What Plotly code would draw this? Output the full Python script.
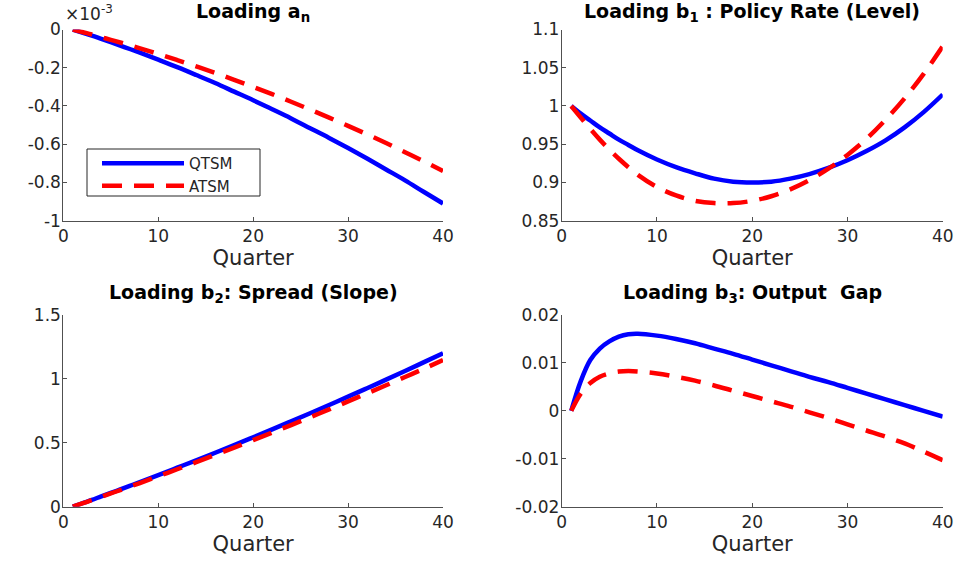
import plotly.graph_objects as go

quarters = [1, 2, 3, 4, 5, 6, 7, 8, 10, 12, 14, 16, 18, 20, 22, 24, 26, 28, 30, 32, 34, 36, 38, 40]

# Loading a_n (units of 1e-3)
an_qtsm = [0, -0.016, -0.032, -0.049, -0.066, -0.084, -0.102, -0.120, -0.158, -0.197, -0.238, -0.280,
           -0.325, -0.370, -0.417, -0.465, -0.516, -0.567, -0.620, -0.675, -0.732, -0.789, -0.850, -0.910]
an_atsm = [0, -0.013, -0.026, -0.040, -0.054, -0.068, -0.082, -0.097, -0.128, -0.160, -0.193, -0.227,
           -0.263, -0.300, -0.338, -0.378, -0.419, -0.461, -0.504, -0.548, -0.594, -0.642, -0.690, -0.740]

# Loading b1: Policy rate (level)
b1_qtsm = [1.000, 0.990, 0.981, 0.972, 0.964, 0.956, 0.949, 0.942, 0.930, 0.920, 0.912, 0.905,
           0.901, 0.900, 0.901, 0.905, 0.911, 0.919, 0.929, 0.941, 0.955, 0.972, 0.992, 1.015]
b1_atsm = [1.000, 0.985, 0.970, 0.956, 0.943, 0.931, 0.920, 0.910, 0.894, 0.883, 0.876, 0.873,
           0.873, 0.876, 0.882, 0.891, 0.903, 0.918, 0.936, 0.957, 0.982, 1.010, 1.042, 1.078]

# Loading b2: Spread (slope)
b2_qtsm = [0, 0.027, 0.053, 0.081, 0.108, 0.135, 0.163, 0.191, 0.247, 0.305, 0.363, 0.422,
           0.482, 0.543, 0.605, 0.668, 0.731, 0.796, 0.861, 0.927, 0.994, 1.062, 1.131, 1.200]
b2_atsm = [0, 0.026, 0.051, 0.077, 0.104, 0.130, 0.157, 0.183, 0.238, 0.293, 0.348, 0.405,
           0.462, 0.521, 0.580, 0.639, 0.700, 0.761, 0.824, 0.887, 0.950, 1.015, 1.080, 1.147]

# Loading b3: Output gap
b3_qtsm = [0, 0.0062, 0.0106, 0.0130, 0.0145, 0.0155, 0.0160, 0.0161, 0.0157, 0.0150, 0.0141, 0.0130,
           0.0119, 0.0107, 0.0095, 0.0083, 0.0071, 0.0060, 0.0048, 0.0036, 0.0024, 0.0012, 0.0000, -0.0012]
b3_atsm = [0, 0.0036, 0.0058, 0.0071, 0.0078, 0.0082, 0.0083, 0.0082, 0.0078, 0.0071, 0.0063, 0.0053,
           0.0042, 0.0031, 0.0020, 0.0009, -0.0003, -0.0015, -0.0028, -0.0041, -0.0054, -0.0068, -0.0085, -0.0103]

titles = ["<b>Loading a<sub>n</sub></b>",
          "<b>Loading b<sub>1</sub> : Policy Rate (Level)</b>",
          "<b>Loading b<sub>2</sub>: Spread (Slope)</b>",
          "<b>Loading b<sub>3</sub>: Output&nbsp; Gap</b>"]
x_ticks = [0, 10, 20, 30, 40]
y_ticks = [
    ([-1, -0.8, -0.6, -0.4, -0.2, 0], ["-1", "-0.8", "-0.6", "-0.4", "-0.2", "0"], [-1, 0]),
    ([0.85, 0.9, 0.95, 1.0, 1.05, 1.1], ["0.85", "0.9", "0.95", "1", "1.05", "1.1"], [0.85, 1.1]),
    ([0, 0.5, 1.0, 1.5], ["0", "0.5", "1", "1.5"], [0, 1.5]),
    ([-0.02, -0.01, 0, 0.01, 0.02], ["-0.02", "-0.01", "0", "0.01", "0.02"], [-0.02, 0.02]),
]
series = [(an_qtsm, an_atsm), (b1_qtsm, b1_atsm), (b2_qtsm, b2_atsm), (b3_qtsm, b3_atsm)]

W, H = 961, 563
xdoms = [[63.3 / W, 443 / W], [561.7 / W, 942.7 / W]]
ydoms = [[1 - 220.7 / H, 1 - 29.5 / H], [1 - 506.7 / H, 1 - 315 / H]]

AX = "#505050"
TXT = "#262626"
FONT = "DejaVu Sans, Liberation Sans, Arial, sans-serif"

fig = go.Figure()
layout = dict(
    width=W, height=H, margin=dict(l=0, r=0, t=0, b=0, autoexpand=False),
    paper_bgcolor="white", plot_bgcolor="white",
    font=dict(family=FONT, color=TXT),
    showlegend=True,
    legend=dict(x=97 / W, y=1 - 147 / H, xanchor="left", yanchor="top",
                borderwidth=0, bgcolor="rgba(0,0,0,0)",
                font=dict(size=15, color=TXT, family=FONT), itemwidth=82,
                tracegroupgap=0),
    shapes=[dict(type="rect", xref="paper", yref="paper",
                 x0=87 / W, x1=260 / W, y0=1 - 196 / H, y1=1 - 149 / H,
                 line=dict(color=TXT, width=1), fillcolor="white", layer="below")],
)
annotations = []
for i in range(4):
    r, c = divmod(i, 2)
    ax = "" if i == 0 else str(i + 1)
    q, a = series[i]
    fig.add_trace(go.Scatter(x=quarters, y=q, mode="lines", name="QTSM",
                             line=dict(color="#0000FF", width=4.5, shape="spline"),
                             xaxis="x" + ax, yaxis="y" + ax, showlegend=(i == 0),
                             cliponaxis=False))
    fig.add_trace(go.Scatter(x=quarters, y=a, mode="lines", name="ATSM",
                             line=dict(color="#FF0000", width=4.5, shape="spline", dash="20px,12px"),
                             xaxis="x" + ax, yaxis="y" + ax, showlegend=(i == 0),
                             cliponaxis=False))
    tv, tt, rng = y_ticks[i]
    layout["xaxis" + ax] = dict(
        domain=xdoms[c], anchor="y" + ax, range=[0, 40], tickvals=x_ticks,
        ticktext=[str(v) for v in x_ticks], automargin=False,
        showline=True, linecolor=AX, linewidth=1, ticks="inside", ticklen=4, tickcolor=AX,
        showgrid=False, zeroline=False, tickfont=dict(size=17, color=TXT, family=FONT),
        title=dict(text="Quarter", font=dict(size=21, color=TXT, family=FONT), standoff=0),
    )
    layout["yaxis" + ax] = dict(
        domain=ydoms[r], anchor="x" + ax, range=rng, tickvals=tv, ticktext=tt, automargin=False,
        showline=True, linecolor=AX, linewidth=1, ticks="inside", ticklen=4, tickcolor=AX,
        showgrid=False, zeroline=False, tickfont=dict(size=17, color=TXT, family=FONT),
        ticklabelstandoff=-2,
    )
    cx = (xdoms[c][0] + xdoms[c][1]) / 2
    ty = [12, 293][r]
    annotations.append(dict(text=titles[i], x=cx, y=1 - ty / H, xref="paper", yref="paper",
                            xanchor="center", yanchor="middle", showarrow=False,
                            font=dict(size=19, color="black", family=FONT)))

annotations.append(dict(text="×10<sup>-3</sup>", x=63 / W, y=1 - 13 / H, xref="paper", yref="paper",
                        xanchor="left", yanchor="middle", showarrow=False,
                        font=dict(size=17, color=TXT, family=FONT)))
layout["annotations"] = annotations
fig.update_layout(**layout)
fig.write_html("out.html")
